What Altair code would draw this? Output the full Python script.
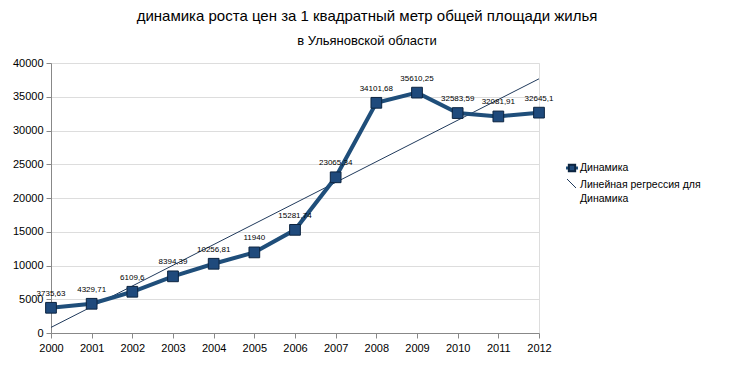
import altair as alt
import pandas as pd

years = [2000, 2001, 2002, 2003, 2004, 2005, 2006, 2007, 2008, 2009, 2010, 2011, 2012]
values = [3735.63, 4329.71, 6109.6, 8394.39, 10256.81, 11940, 15281.74, 23065.34,
          34101.68, 35610.25, 32583.59, 32081.91, 32645.1]
labels = ["3735,63", "4329,71", "6109,6", "8394,39", "10256,81", "11940", "15281,74",
          "23065,34", "34101,68", "35610,25", "32583,59", "32081,91", "32645,1"]
y_ticks = [0, 5000, 10000, 15000, 20000, 25000, 30000, 35000, 40000]

title_main = "динамика роста цен за 1 квадратный метр общей площади жилья"
title_sub = "в Ульяновской области"
legend_items = ["Динамика", "Линейная регрессия для", "Динамика"]

df = pd.DataFrame({"year": years, "value": values, "label": labels})

FONT = "Liberation Sans"
LINE = "#1f4e7a"
MARK = "#1f4a7c"
EDGE = "#0c2440"
REG = "#203a5c"

x = alt.X("year:Q", scale=alt.Scale(domain=[2000, 2012], nice=False, zero=False),
          axis=alt.Axis(values=years, format="d", title=None, grid=False,
                        labelFontSize=11, labelPadding=4, labelFlush=False, labelOverlap=False))
y = alt.Y("value:Q", scale=alt.Scale(domain=[0, 40000], nice=False),
          axis=alt.Axis(values=y_ticks, format="d", title=None, grid=True,
                        labelFontSize=11, labelPadding=3, labelFlush=False))

base = alt.Chart(df)

reg = base.transform_regression("year", "value", extent=[2000, 2012]).mark_line(
    color=REG, strokeWidth=1).encode(x=x, y=y)

line = base.mark_line(color=LINE, strokeWidth=4).encode(x=x, y=y)
pts = base.mark_square(size=115, color=MARK, stroke=EDGE, strokeWidth=1, opacity=1).encode(x=x, y=y)
txt = base.mark_text(fontSize=8, font=FONT, color="#000", dy=-14).encode(x=x, y=y, text="label:N")

one = pd.DataFrame({"k": [0]})
leg1_sym_line = alt.Chart(one).mark_rule(color=LINE, strokeWidth=3).encode(
    x=alt.value(515), x2=alt.value(527), y=alt.value(105))
leg1_sym = alt.Chart(one).mark_square(size=40, color=MARK, stroke=EDGE, opacity=1).encode(
    x=alt.value(521), y=alt.value(105))
leg2_sym = alt.Chart(one).mark_rule(color=REG, strokeWidth=1).encode(
    x=alt.value(516), x2=alt.value(525), y=alt.value(116), y2=alt.value(125))


def leg_text(i, yy):
    return alt.Chart(one).mark_text(align="left", baseline="middle", fontSize=10.5, font=FONT,
                                    color="#000").encode(
        x=alt.value(529), y=alt.value(yy), text=alt.value(legend_items[i]))


chart = alt.layer(reg, line, pts, txt, leg1_sym_line, leg1_sym, leg2_sym,
                  leg_text(0, 105), leg_text(1, 122), leg_text(2, 136)).properties(
    width=488, height=270,
    autosize=alt.AutoSizeParams(type="none"),
    padding={"left": 43, "top": 55, "right": 190, "bottom": 28},
    title=alt.TitleParams(text=title_main, subtitle=title_sub, anchor="middle", dx=72,
                          font=FONT, fontSize=15, fontWeight="normal", color="#000",
                          subtitleFont=FONT, subtitleFontSize=13, subtitleColor="#000",
                          subtitlePadding=11, offset=9),
).configure_view(stroke="#b3b3b3", strokeWidth=1).configure_axis(
    labelFont=FONT, labelColor="#000", domainColor="#b3b3b3", tickColor="#b3b3b3",
    gridColor="#b3b3b3", tickSize=5, domainWidth=1, gridWidth=1
).configure(background="white")

chart.save("out.html", embed_options={"renderer": "svg", "actions": False})
